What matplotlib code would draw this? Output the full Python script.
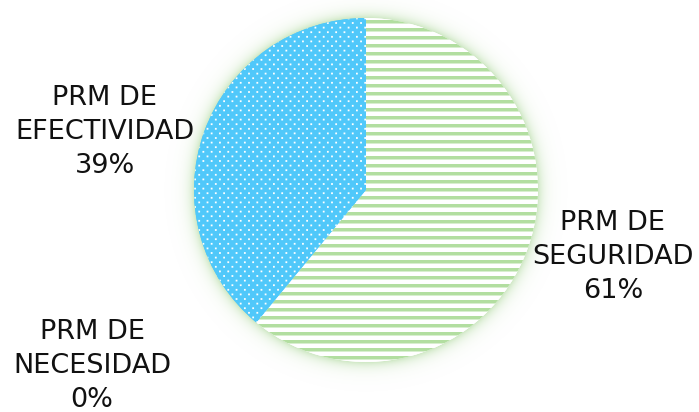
import numpy as np
import matplotlib
matplotlib.use("Agg")
import matplotlib.pyplot as plt

# Data
categories = ["PRM DE\nSEGURIDAD", "PRM DE\nNECESIDAD", "PRM DE\nEFECTIVIDAD"]
values = [61, 0, 39]

green = (178 / 255, 222 / 255, 160 / 255)
blue = (80 / 255, 200 / 255, 250 / 255)
glow_rgb = (165 / 255, 212 / 255, 145 / 255)

W, H = 699, 412
fig = plt.figure(figsize=(W / 100, H / 100), dpi=100)
ax = fig.add_axes([0, 0, 1, 1])

center = (366, H - 190)
radius = 172

# soft glow around the pie
yy, xx = np.mgrid[0:H, 0:W]
px = xx + 0.5
py = yy + 0.5
dist = np.hypot(px - center[0], (H - py) - center[1])
glow = np.zeros((H, W, 4))
glow[..., 0], glow[..., 1], glow[..., 2] = glow_rgb
outside = np.clip(dist - radius, 0, None)
glow[..., 3] = np.where(dist > radius - 2, 0.55 * np.exp(-outside / 6.0), 0)
ax.imshow(glow, extent=(0, W, 0, H), origin="upper", interpolation="nearest",
          zorder=0, aspect="auto")

wedges, _ = ax.pie(values, colors=["white", "white", blue], startangle=90,
                   counterclock=False, center=center, radius=radius, frame=True,
                   wedgeprops=dict(linewidth=0))

# horizontal stripe texture
stripe = np.ones((H, W, 4))
m = yy % 8
cov = np.where((m >= 4) & (m <= 6), 1.0, np.where(m == 7, 0.5, 0.0))
for k in range(3):
    stripe[..., k] = cov * green[k] + (1 - cov) * 1.0

# dotted texture
pitch_x, pitch_y, dot = 8.3, 4.6, 1.8
r = np.round(py / pitch_y)
dy = py - r * pitch_y
off = (r % 2) * pitch_x / 2
dx = np.mod(px - off, pitch_x)
dx = np.minimum(dx, pitch_x - dx)
cx = np.clip(dot / 2 + 0.5 - np.abs(dx), 0, 1)
cy = np.clip(dot / 2 + 0.5 - np.abs(dy), 0, 1)
dcov = cx * cy
dots = np.ones((H, W, 4))
for k in range(3):
    dots[..., k] = dcov * 1.0 + (1 - dcov) * blue[k]

for wedge, tex in ((wedges[0], stripe), (wedges[2], dots)):
    im = ax.imshow(tex, extent=(0, W, 0, H), origin="upper",
                   interpolation="nearest", zorder=3, aspect="auto")
    im.set_clip_path(wedge)

ax.set_xlim(0, W)
ax.set_ylim(0, H)
ax.set_aspect("auto")
ax.set_axis_off()

label_pos = [(613, H - 257), (92, H - 366), (105, H - 132)]
for cat, val, (lx, ly) in zip(categories, values, label_pos):
    ax.text(lx, ly, f"{cat}\n{val}%", ha="center", va="center",
            fontsize=19.5, family="DejaVu Sans", linespacing=1.38,
            color="#111111", zorder=5)

fig.savefig("out.png", dpi=100)
